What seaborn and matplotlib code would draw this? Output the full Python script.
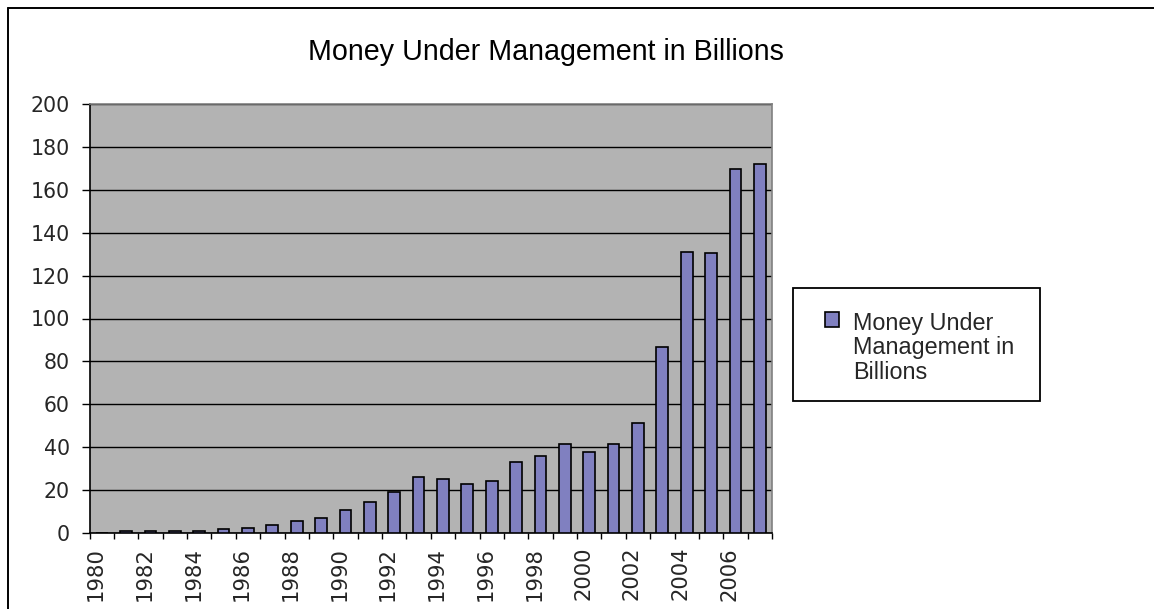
import matplotlib
matplotlib.use("Agg")
import matplotlib.pyplot as plt
from matplotlib.patches import Rectangle
from matplotlib.lines import Line2D
import matplotlib.transforms as mtransforms
import seaborn as sns
import pandas as pd
import numpy as np

years = [str(y) for y in range(1980, 2008)]
money = [0, 0.8, 0.8, 0.8, 0.8, 1.7, 2.5, 3.9, 5.6, 7.1, 10.9, 14.6, 19.0, 26.3,
         25.0, 22.7, 24.2, 33.2, 36.0, 41.5, 37.8, 41.5, 51.1, 86.9, 131.2, 130.4,
         169.5, 172.0]
series_name = "Money Under Management in Billions"
legend_label = "Money Under\nManagement in\nBillions"
yticks = [0, 20, 40, 60, 80, 100, 120, 140, 160, 180, 200]

df = pd.DataFrame({"Year": years, "Value": money})

sns.set_style("white")
plt.rcParams["font.family"] = ["Liberation Sans", "DejaVu Sans"]
TICK_FONT = ["DejaVu Sans"]

W, H = 1154, 609
fig = plt.figure(figsize=(W / 100, H / 100), dpi=100)
fig.patch.set_facecolor("white")

L, R, T, B = 89.5, 772, 104, 533
ax = fig.add_axes([L / W, 1 - B / H, (R - L) / W, (B - T) / H])
ax.set_facecolor("#b3b3b3")

sns.barplot(data=df, x="Year", y="Value", color="#8080c0", edgecolor="black",
            linewidth=1.2, width=0.48, saturation=1, ax=ax, label=series_name,
            zorder=3)
if ax.get_legend() is not None:
    ax.get_legend().remove()

n = len(years)
ax.set_xlim(-0.5, n - 0.5)
ax.set_ylim(0, 200)
ax.set_yticks(yticks)
ax.set_yticklabels([str(v) for v in yticks], fontsize=14.8, family=TICK_FONT)
ax.grid(axis="y", color="black", linewidth=1.0, zorder=1)
ax.set_axisbelow(True)

# category boundaries as major ticks, labels as minor ticks
ax.set_xticks(np.arange(-0.5, n, 1.0))
ax.set_xticklabels([])
lab_pos = [i for i in range(n) if int(years[i]) % 2 == 0]
ax.set_xticks(lab_pos, minor=True)
ax.set_xticklabels([years[i] for i in lab_pos], minor=True, rotation=90,
                   fontsize=15.2, family=TICK_FONT)
ax.tick_params(axis="x", which="major", length=4.5, width=1.0, color="black",
               direction="out", bottom=True)
ax.tick_params(axis="x", which="minor", length=0, pad=10)
ax.tick_params(axis="y", length=5.8, width=1.0, color="black", direction="out",
               left=True, pad=8.4)
offset = mtransforms.ScaledTranslation(-6 / 100, 0, fig.dpi_scale_trans)
for lbl in ax.get_xticklabels(minor=True):
    lbl.set_transform(lbl.get_transform() + offset)

ax.set_xlabel("")
ax.set_ylabel("")
for side in ["top", "right"]:
    ax.spines[side].set_color("#808080")
    ax.spines[side].set_linewidth(1.2)
for side in ["left", "bottom"]:
    ax.spines[side].set_color("black")
    ax.spines[side].set_linewidth(1.2)

fig.text(546 / W, 1 - 59.5 / H, series_name, ha="center", va="baseline",
         fontsize=20.6, color="black")

# legend
box = Rectangle((793 / W, 1 - 401 / H), (1040 - 793) / W, (401 - 288) / H,
                transform=fig.transFigure, fill=False, edgecolor="black",
                linewidth=1.3)
fig.add_artist(box)
handles = ax.containers[:1]
anchor = [825 / W, 1 - 311 / H]
leg = fig.legend(handles, [legend_label],
                 loc="upper left", bbox_to_anchor=tuple(anchor),
                 frameon=False, fontsize=16.8, handlelength=0.58,
                 handleheight=0.58, handletextpad=0.6, borderpad=0,
                 borderaxespad=0)
txt = leg.get_texts()[0]
txt.set_linespacing(1.1)

# position legend text: left edge at x=853, first baseline at y=329.3 (px from top)
fig.canvas.draw()
r = fig.canvas.get_renderer()
tb = txt.get_window_extent(r)
fs_px = 16.8 * fig.dpi / 72
target_top = H - (329.3 - 0.76 * fs_px)
dx = 853 - tb.x0
dy = target_top - tb.y1
anchor = [anchor[0] + dx / W, anchor[1] + dy / H]
leg.set_bbox_to_anchor(tuple(anchor), transform=fig.transFigure)

# align the legend marker with the first text line (marker center ~319.7 px)
fig.canvas.draw()
hp = leg.legend_handles[0]
hb = hp.get_window_extent(r)
shift_px = (H - 319.7) - (hb.y0 + hb.y1) / 2
hp.set_y(hp.get_y() + shift_px * 72 / fig.dpi)

# outer chart border (top and left edges visible)
fig.add_artist(Line2D([7.5 / W, 1.0], [1 - 8 / H, 1 - 8 / H],
                      transform=fig.transFigure, color="black", linewidth=1.4))
fig.add_artist(Line2D([7.5 / W, 7.5 / W], [0, 1 - 8 / H],
                      transform=fig.transFigure, color="black", linewidth=1.4))

fig.savefig("out.png", dpi=100, facecolor="white")
